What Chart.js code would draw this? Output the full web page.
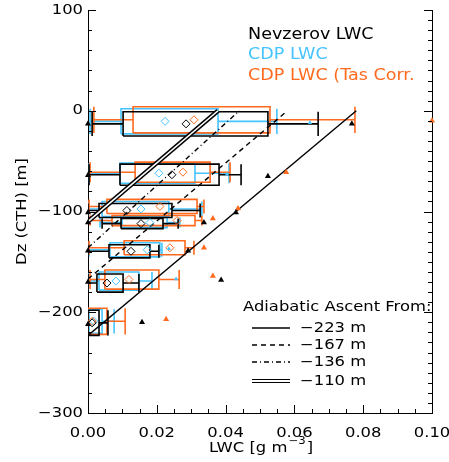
<!DOCTYPE html>
<html>
<head>
<meta charset="utf-8">
<script src="https://cdn.jsdelivr.net/npm/chart.js@4.4.0/dist/chart.umd.min.js"></script>
<style>
  html, body { margin: 0; padding: 0; background: #fff; }
</style>
</head>
<body>
<canvas id="myChart" width="449" height="462"></canvas>
<script>
// box plots per height level (LWC in g m-3, heights in m)
// Nevzerov LWC (black)
const nevTop  = [-1, -53, -92, -107, -133, -162, -198];
const nevBot  = [-25, -74, -106, -117, -146, -180, -223];
const nevQ1   = [0.0102, 0.0093, 0.0032, 0.0096, 0.0061, 0.0026, 0.0000];
const nevQ3   = [0.0523, 0.0381, 0.0244, 0.0218, 0.0180, 0.0102, 0.0032];
const nevLo   = [0.0012, 0.0003, 0.0000, 0.0041, 0.0000, 0.0000, 0.0000];
const nevHi   = [0.0669, 0.0445, 0.0326, 0.0262, 0.0206, 0.0148, 0.0058];
const nevMean = [0.0285, 0.0244, 0.0113, 0.0154, 0.0125, 0.0055, 0.0012];

// CDP LWC (cyan)
const cdpTop  = [2, -52, -90, -106, -131, -160, -197];
const cdpBot  = [-23, -72, -105, -116, -145, -178, -221];
const cdpQ1   = [0.0096, 0.0093, 0.0041, 0.0099, 0.0064, 0.0032, 0.0003];
const cdpQ3   = [0.0378, 0.0311, 0.0235, 0.0230, 0.0209, 0.0148, 0.0041];
const cdpLo   = [0.0006, 0.0003, 0.0000, 0.0035, 0.0003, 0.0000, 0.0000];
const cdpHi   = [0.0549, 0.0410, 0.0331, 0.0267, 0.0215, 0.0186, 0.0076];
const cdpMean = [0.0224, 0.0206, 0.0154, 0.0180, 0.0172, 0.0081, 0.0017];

// CDP LWC (Tas Corr.) (orange)
const tasTop  = [4, -51, -88, -104, -129, -158, -196];
const tasBot  = [-22, -71, -102, -114, -143, -177, -222];
const tasQ1   = [0.0131, 0.0137, 0.0055, 0.0070, 0.0105, 0.0049, 0.0000];
const tasQ3   = [0.0529, 0.0355, 0.0317, 0.0311, 0.0282, 0.0206, 0.0055];
const tasLo   = [0.0017, 0.0006, 0.0003, 0.0006, 0.0003, 0.0006, 0.0000];
const tasHi   = [0.0776, 0.0413, 0.0337, 0.0331, 0.0308, 0.0265, 0.0108];
const tasMean = [0.0308, 0.0276, 0.0209, 0.0259, 0.0238, 0.0119, 0.0012];

// outliers
const nevOutX = [0, 0.0767, 0, 0.0523, 0, 0.0430, 0, 0.0337, 0, 0.0291, 0, 0.0387, 0, 0.0157];
const nevOutZ = [-13, -13, -64, -65, -101, -101, -111, -111, -139, -139, -170, -168, -212, -210];
const tasOutX = [0.1000, 0.0576, 0.0436, 0.0363, 0.0337, 0.0363, 0.0227];
const tasOutZ = [-10, -61, -97, -107, -136, -164, -207];
const cdpOutX = [0.0645, 0.0404, 0.0235, 0.0256];
const cdpOutZ = [-12, -63, -137, -167];

// adiabatic ascent lines: start height at LWC 0, LWC reached at Dz = 0
const adiaBase = [-223, -167, -136, -110];
const adiaTop  = [0.078, 0.058, 0.044, 0.0378];
const adiaLabels = ['\u2212223 m', '\u2212167 m', '\u2212136 m', '\u2212110 m'];

// tick labels
const xTickVals = [0, 0.02, 0.04, 0.06, 0.08, 0.10];
const yTickVals = [100, 0, -100, -200, -300];

const BLACK = '#000000';
const CYAN = '#45C4FF';
const ORANGE = '#FF6A1E';
const FONT = '"DejaVu Sans", sans-serif';
const STRETCH = 1.17;

function boxPoints(q1, q3, lo, hi, top, bot) {
  let pts = [];
  for (let i = 0; i < q1.length; i++) {
    let mid = (top[i] + bot[i]) / 2;
    pts.push({x: q1[i], y: bot[i]}, {x: q3[i], y: bot[i]}, {x: q3[i], y: top[i]},
             {x: q1[i], y: top[i]}, {x: q1[i], y: bot[i]}, {x: 0, y: null});
    pts.push({x: lo[i], y: mid}, {x: q1[i], y: mid}, {x: 0, y: null});
    pts.push({x: q3[i], y: mid}, {x: hi[i], y: mid}, {x: 0, y: null});
    pts.push({x: lo[i], y: top[i]}, {x: lo[i], y: bot[i]}, {x: 0, y: null});
    pts.push({x: hi[i], y: top[i]}, {x: hi[i], y: bot[i]}, {x: 0, y: null});
  }
  return pts;
}

function meanPoints(mean, top, bot) {
  return mean.map((m, i) => ({x: m, y: (top[i] + bot[i]) / 2}));
}

function zip(xs, zs) {
  return xs.map((v, i) => ({x: v, y: zs[i]}));
}

function boxSet(label, color, pts, order) {
  return {label: label, data: pts, showLine: true, spanGaps: false, borderColor: color,
          borderWidth: 1.6, pointRadius: 0, fill: false, order: order};
}

function adiaLine(i, opts) {
  return Object.assign({
    data: [{x: 0, y: adiaBase[i]}, {x: adiaTop[i], y: 0}],
    showLine: true, borderColor: BLACK, borderWidth: 1.4, pointRadius: 0, fill: false, order: 5
  }, opts);
}

let datasets = [
  // triangles
  {data: zip(nevOutX, nevOutZ), pointStyle: 'triangle', pointRadius: 3.5, backgroundColor: BLACK, borderColor: BLACK, borderWidth: 0, order: 1, clip: false},
  {data: zip(tasOutX, tasOutZ), pointStyle: 'triangle', pointRadius: 3.5, backgroundColor: ORANGE, borderColor: ORANGE, borderWidth: 0, order: 2, clip: false},
  {data: zip(cdpOutX, cdpOutZ), pointStyle: 'triangle', pointRadius: 2.5, backgroundColor: CYAN, borderColor: CYAN, borderWidth: 0, order: 3, clip: false},
  // means
  {data: meanPoints(nevMean, nevTop, nevBot), pointStyle: 'rectRot', pointRadius: 4, backgroundColor: 'rgba(0,0,0,0)', borderColor: BLACK, borderWidth: 1, order: 4},
  {data: meanPoints(cdpMean, cdpTop, cdpBot), pointStyle: 'rectRot', pointRadius: 4, backgroundColor: 'rgba(0,0,0,0)', borderColor: CYAN, borderWidth: 1, order: 4},
  {data: meanPoints(tasMean, tasTop, tasBot), pointStyle: 'rectRot', pointRadius: 4, backgroundColor: 'rgba(0,0,0,0)', borderColor: ORANGE, borderWidth: 1, order: 4},
  // adiabatic lines
  adiaLine(3, {borderColor: '#ffffff', borderWidth: 1.6, order: 5}),
  adiaLine(3, {borderWidth: 4.6, order: 6}),
  adiaLine(2, {borderDash: [5, 3, 1, 3], order: 6}),
  adiaLine(1, {borderDash: [5, 4], order: 6}),
  adiaLine(0, {order: 6}),
  // boxes
  boxSet('Nevzerov LWC', BLACK, boxPoints(nevQ1, nevQ3, nevLo, nevHi, nevTop, nevBot), 7),
  boxSet('CDP LWC (Tas Corr.', ORANGE, boxPoints(tasQ1, tasQ3, tasLo, tasHi, tasTop, tasBot), 8),
  boxSet('CDP LWC', CYAN, boxPoints(cdpQ1, cdpQ3, cdpLo, cdpHi, cdpTop, cdpBot), 9)
];

// wide text, like the plotting font of the original
function wideText(ctx, text, x, y, align) {
  ctx.save();
  ctx.translate(x, y);
  ctx.scale(STRETCH, 1);
  ctx.textAlign = align || 'left';
  ctx.fillText(text, 0, 0);
  ctx.restore();
}

function textW(ctx, text) {
  return ctx.measureText(text).width * STRETCH;
}

const decorPlugin = {
  id: 'decor',
  afterDraw(chart) {
    const ctx = chart.ctx;
    const xs = chart.scales.x, ys = chart.scales.y;
    const a = chart.chartArea;
    ctx.save();
    ctx.strokeStyle = BLACK;
    ctx.lineWidth = 1;
    ctx.beginPath();
    // bottom ticks (inward)
    for (let k = 0; k <= 20; k++) {
      let px = Math.round(xs.getPixelForValue(k * 0.005)) + 0.5;
      let len = (k % 4 === 0) ? 8 : 4;
      ctx.moveTo(px, a.bottom); ctx.lineTo(px, a.bottom - len);
    }
    // left ticks
    for (let z = -300; z <= 100; z += 20) {
      let py = Math.round(ys.getPixelForValue(z)) + 0.5;
      let len = (z % 100 === 0) ? 8 : 4;
      ctx.moveTo(a.left, py); ctx.lineTo(a.left + len, py);
    }
    // right ticks
    for (let z = -300; z <= 100; z += 10) {
      let py = Math.round(ys.getPixelForValue(z)) + 0.5;
      let len = (z % 100 === 0) ? 8 : 4;
      ctx.moveTo(a.right, py); ctx.lineTo(a.right - len, py);
    }
    ctx.stroke();

    ctx.fillStyle = BLACK;
    ctx.textBaseline = 'middle';
    ctx.font = '14px ' + FONT;
    // tick labels
    xTickVals.forEach((v) => wideText(ctx, v.toFixed(2), xs.getPixelForValue(v), 433, 'center'));
    yTickVals.forEach((v) => wideText(ctx, String(v).replace('-', '\u2212'), 83, ys.getPixelForValue(v), 'right'));

    // axis titles
    ctx.save();
    ctx.translate(22, (a.top + a.bottom) / 2);
    ctx.rotate(-Math.PI / 2);
    wideText(ctx, 'Dz (CTH) [m]', 0, 0, 'center');
    ctx.restore();

    let t1 = 'LWC [g m', sup = '\u22123', t2 = ']';
    ctx.font = '14px ' + FONT;
    let w1 = textW(ctx, t1), w3 = textW(ctx, t2);
    ctx.font = '10px ' + FONT;
    let w2 = textW(ctx, sup);
    let x0 = (a.left + a.right) / 2 - (w1 + w2 + w3) / 2;
    let yb = 448;
    ctx.font = '14px ' + FONT;
    wideText(ctx, t1, x0, yb);
    ctx.font = '10px ' + FONT;
    wideText(ctx, sup, x0 + w1 + 1, yb - 7);
    ctx.font = '14px ' + FONT;
    wideText(ctx, t2, x0 + w1 + w2 + 2, yb);

    // series legend
    ctx.font = '15px ' + FONT;
    ctx.fillStyle = BLACK;  wideText(ctx, 'Nevzerov LWC', 248, 35);
    ctx.fillStyle = CYAN;   wideText(ctx, 'CDP LWC', 248, 55);
    ctx.fillStyle = ORANGE; wideText(ctx, 'CDP LWC (Tas Corr.', 248, 76);

    // adiabatic legend
    ctx.fillStyle = BLACK;
    ctx.font = '14px ' + FONT;
    wideText(ctx, 'Adiabatic Ascent From:', 243, 307);
    const ly = [328, 345, 362, 381];
    const dashes = [[], [5, 4], [5, 3, 1, 3], []];
    for (let i = 0; i < 4; i++) {
      ctx.setLineDash(dashes[i]);
      ctx.beginPath();
      if (i === 3) {
        ctx.lineWidth = 1.2;
        ctx.moveTo(252, ly[i] - 1.5); ctx.lineTo(290, ly[i] - 1.5);
        ctx.moveTo(252, ly[i] + 1.5); ctx.lineTo(290, ly[i] + 1.5);
      } else {
        ctx.lineWidth = 1.3;
        ctx.moveTo(252, ly[i]); ctx.lineTo(290, ly[i]);
      }
      ctx.stroke();
      wideText(ctx, adiaLabels[i], 300, ly[i]);
    }
    ctx.restore();
  }
};

let ctx = document.getElementById('myChart').getContext('2d');
let myChart = new Chart(ctx, {
  type: 'scatter',
  data: { datasets: datasets },
  plugins: [decorPlugin],
  options: {
    responsive: false,
    animation: false,
    layout: { padding: { top: 10, left: 0, right: 0, bottom: 0 } },
    plugins: { legend: { display: false }, tooltip: { enabled: false } },
    scales: {
      x: {
        type: 'linear', min: 0, max: 0.1,
        grid: { display: false, drawTicks: false },
        border: { display: true, color: BLACK, width: 1 },
        ticks: { display: false, stepSize: 0.02 },
        afterFit: (s) => { s.height = 49; }
      },
      y: {
        type: 'linear', min: -300, max: 100, position: 'left',
        grid: { display: false, drawTicks: false },
        border: { display: true, color: BLACK, width: 1 },
        ticks: { display: false, stepSize: 100 },
        afterFit: (s) => { s.width = 88; }
      },
      y2: {
        type: 'linear', min: -300, max: 100, position: 'right',
        grid: { display: false, drawTicks: false },
        border: { display: true, color: BLACK, width: 1 },
        ticks: { display: false },
        afterFit: (s) => { s.width = 17; }
      }
    }
  }
});
</script>
</body>
</html>
